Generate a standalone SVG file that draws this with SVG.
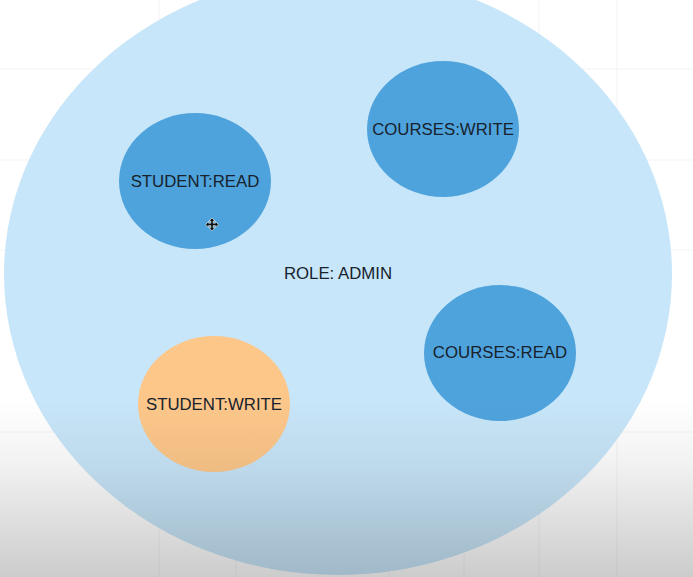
<svg xmlns="http://www.w3.org/2000/svg" width="693" height="577" viewBox="0 0 693 577">
<defs>
<linearGradient id="shade" x1="0" y1="0" x2="0" y2="1">
<stop offset="0" stop-color="#000" stop-opacity="0"/>
<stop offset="0.35" stop-color="#000" stop-opacity="0.05"/>
<stop offset="1" stop-color="#000" stop-opacity="0.2"/>
</linearGradient>
<style>
.grid{stroke:#f3f3f3;stroke-width:1}
.perm{fill:#4fa3dc}
.warn{fill:#fdc78a}
.lbl{font-family:"Liberation Sans",Arial,sans-serif;font-size:16.8px;fill:#17222c;text-anchor:middle;dominant-baseline:central}
</style>
</defs>
<rect width="693" height="577" fill="#ffffff"/>
<g id="grid">
<line class="grid" x1="159" y1="0" x2="159" y2="577"/>
<line class="grid" x1="236" y1="0" x2="236" y2="577"/>
<line class="grid" x1="389" y1="0" x2="389" y2="577"/>
<line class="grid" x1="464" y1="0" x2="464" y2="577"/>
<line class="grid" x1="539" y1="0" x2="539" y2="577"/>
<line class="grid" x1="617" y1="0" x2="617" y2="577"/>
<line class="grid" x1="0" y1="69" x2="693" y2="69"/>
<line class="grid" x1="0" y1="160" x2="693" y2="160"/>
<line class="grid" x1="0" y1="250" x2="693" y2="250"/>
<line class="grid" x1="0" y1="432" x2="693" y2="432"/>
</g>
<g id="role-admin">
<ellipse cx="338" cy="274" rx="334" ry="301" fill="#c8e6f9"/>
<text class="lbl" x="338" y="273">ROLE: ADMIN</text>
</g>
<g id="student-read">
<ellipse class="perm" cx="195" cy="181" rx="76" ry="68"/>
<text class="lbl" x="195" y="181">STUDENT:READ</text>
</g>
<g id="courses-write">
<ellipse class="perm" cx="443" cy="129" rx="76" ry="68"/>
<text class="lbl" x="443" y="129">COURSES:WRITE</text>
</g>
<g id="courses-read">
<ellipse class="perm" cx="500" cy="353" rx="76" ry="68"/>
<text class="lbl" x="500" y="352">COURSES:READ</text>
</g>
<g id="student-write">
<ellipse class="warn" cx="214" cy="404" rx="76" ry="68"/>
<text class="lbl" x="214" y="404">STUDENT:WRITE</text>
</g>
<g id="connectors"></g>
<g id="cursor" fill="#111" stroke="#fff" stroke-width="0.6">
<path d="M212 218 L215 221 L213.2 221 L213.2 223.2 L215.4 223.2 L215.4 221.4 L218.4 224.4 L215.4 227.4 L215.4 225.6 L213.2 225.6 L213.2 227.8 L215 227.8 L212 230.8 L209 227.8 L210.8 227.8 L210.8 225.6 L208.6 225.6 L208.6 227.4 L205.6 224.4 L208.6 221.4 L208.6 223.2 L210.8 223.2 L210.8 221 L209 221 Z"/>
</g>
<rect x="0" y="400" width="693" height="177" fill="url(#shade)"/>
</svg>
